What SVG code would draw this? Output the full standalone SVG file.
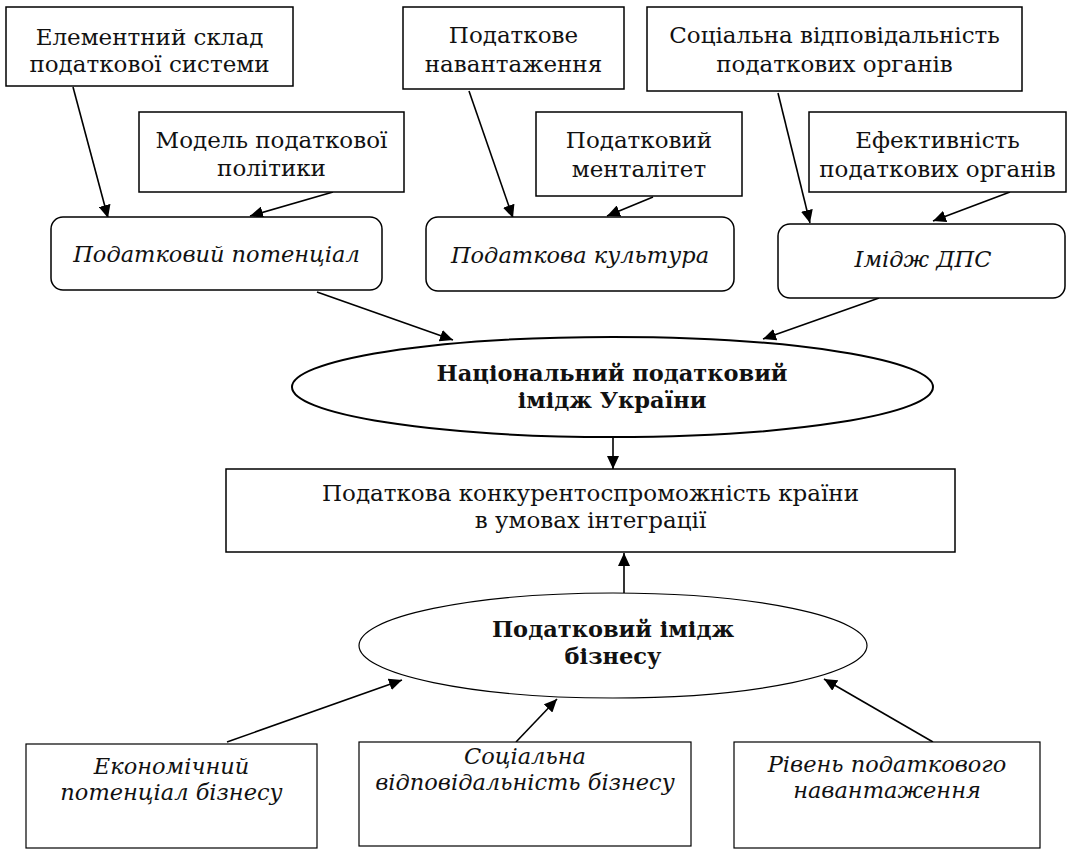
<svg xmlns="http://www.w3.org/2000/svg" width="1069" height="849" viewBox="0 0 1069 849">
<defs>
<marker id="ah" markerUnits="userSpaceOnUse" markerWidth="14" markerHeight="12" refX="13" refY="6" orient="auto">
<path d="M0,0 L13,6 L0,12 Z" fill="#000"/>
</marker>
<style>
.box{fill:#fff;stroke:#000;stroke-width:1.5}
.thin{stroke-width:1.2}
.thick{stroke-width:2}
.t{font-family:"DejaVu Serif","Liberation Serif",serif;font-size:23px;fill:#111;text-anchor:middle}
.i{font-style:italic;font-size:22.5px}
.b{font-weight:bold;font-size:22.5px}
.c{stroke:#000;stroke-width:1.6;fill:none;marker-end:url(#ah)}
</style>
</defs>
<rect width="1069" height="849" fill="#fff"/>
<g id="connectors">
<line class="c" x1="73" y1="87" x2="108" y2="218"/>
<line class="c" x1="333" y1="192" x2="250" y2="216"/>
<line class="c" x1="469" y1="91" x2="513" y2="218"/>
<line class="c" x1="653" y1="197" x2="607" y2="216"/>
<line class="c" x1="778" y1="93" x2="810" y2="223"/>
<line class="c" x1="1010" y1="192" x2="933" y2="221"/>
<line class="c" x1="317" y1="292" x2="453" y2="340"/>
<line class="c" x1="879" y1="298" x2="763" y2="339"/>
<line class="c" x1="613" y1="437" x2="613" y2="469"/>
<line class="c" x1="624" y1="593" x2="624" y2="553"/>
<line class="c" x1="227" y1="742" x2="402" y2="680"/>
<line class="c" x1="516" y1="742" x2="557" y2="699"/>
<line class="c" x1="933" y1="742" x2="824" y2="679"/>
</g>
<g id="n-element">
<rect class="box" x="6" y="7" width="287" height="79"/>
<text class="t" x="149.5" y="45">Елементний склад</text>
<text class="t" x="149.5" y="72">податкової системи</text>
</g>
<g id="n-model">
<rect class="box" x="139" y="112" width="265" height="80"/>
<text class="t" x="271.5" y="148">Модель податкової</text>
<text class="t" x="271.5" y="176">політики</text>
</g>
<g id="n-potential">
<rect class="box" x="51" y="217" width="331" height="73" rx="12"/>
<text class="t i" x="216.5" y="262">Податковий потенціал</text>
</g>
<g id="n-burden">
<rect class="box" x="403" y="7" width="221" height="82"/>
<text class="t" x="513.5" y="43">Податкове</text>
<text class="t" x="513.5" y="72">навантаження</text>
</g>
<g id="n-mentality">
<rect class="box" x="536" y="112" width="206" height="84"/>
<text class="t" x="639" y="148">Податковий</text>
<text class="t" x="639" y="177">менталітет</text>
</g>
<g id="n-culture">
<rect class="box" x="426" y="217" width="308" height="74" rx="12"/>
<text class="t i" x="580" y="263">Податкова культура</text>
</g>
<g id="n-social-authorities">
<rect class="box" x="647" y="7" width="375" height="84"/>
<text class="t" x="834.5" y="43">Соціальна відповідальність</text>
<text class="t" x="834.5" y="72">податкових органів</text>
</g>
<g id="n-efficiency">
<rect class="box" x="809" y="112" width="257" height="80"/>
<text class="t" x="937.5" y="148">Ефективність</text>
<text class="t" x="937.5" y="177">податкових органів</text>
</g>
<g id="n-image-dps">
<rect class="box" x="778" y="224" width="287" height="74" rx="12"/>
<text class="t i" x="923" y="267">Імідж ДПС</text>
</g>
<g id="n-national-image">
<ellipse class="box thick" cx="612.5" cy="387" rx="320.5" ry="50"/>
<text class="t b" x="612" y="381">Національний податковий</text>
<text class="t b" x="612" y="408">імідж України</text>
</g>
<g id="n-competitiveness">
<rect class="box" x="226" y="469" width="729" height="83"/>
<text class="t" x="590.5" y="501">Податкова конкурентоспроможність країни</text>
<text class="t" x="590.5" y="528">в умовах інтеграції</text>
</g>
<g id="n-business-image">
<ellipse class="box thin" cx="613" cy="645.5" rx="254" ry="52.5"/>
<text class="t b" x="613" y="637">Податковий імідж</text>
<text class="t b" x="613" y="664">бізнесу</text>
</g>
<g id="n-economic">
<rect class="box thin" x="26" y="744" width="291" height="104"/>
<text class="t i" x="171.5" y="774">Економічний</text>
<text class="t i" x="171.5" y="800">потенціал бізнесу</text>
</g>
<g id="n-social-business">
<rect class="box thin" x="359" y="742" width="332" height="104"/>
<text class="t i" x="525" y="764">Соціальна</text>
<text class="t i" x="525" y="790">відповідальність бізнесу</text>
</g>
<g id="n-burden-level">
<rect class="box thin" x="734" y="742" width="306" height="106"/>
<text class="t i" x="887" y="772">Рівень податкового</text>
<text class="t i" x="887" y="798">навантаження</text>
</g>
</svg>
